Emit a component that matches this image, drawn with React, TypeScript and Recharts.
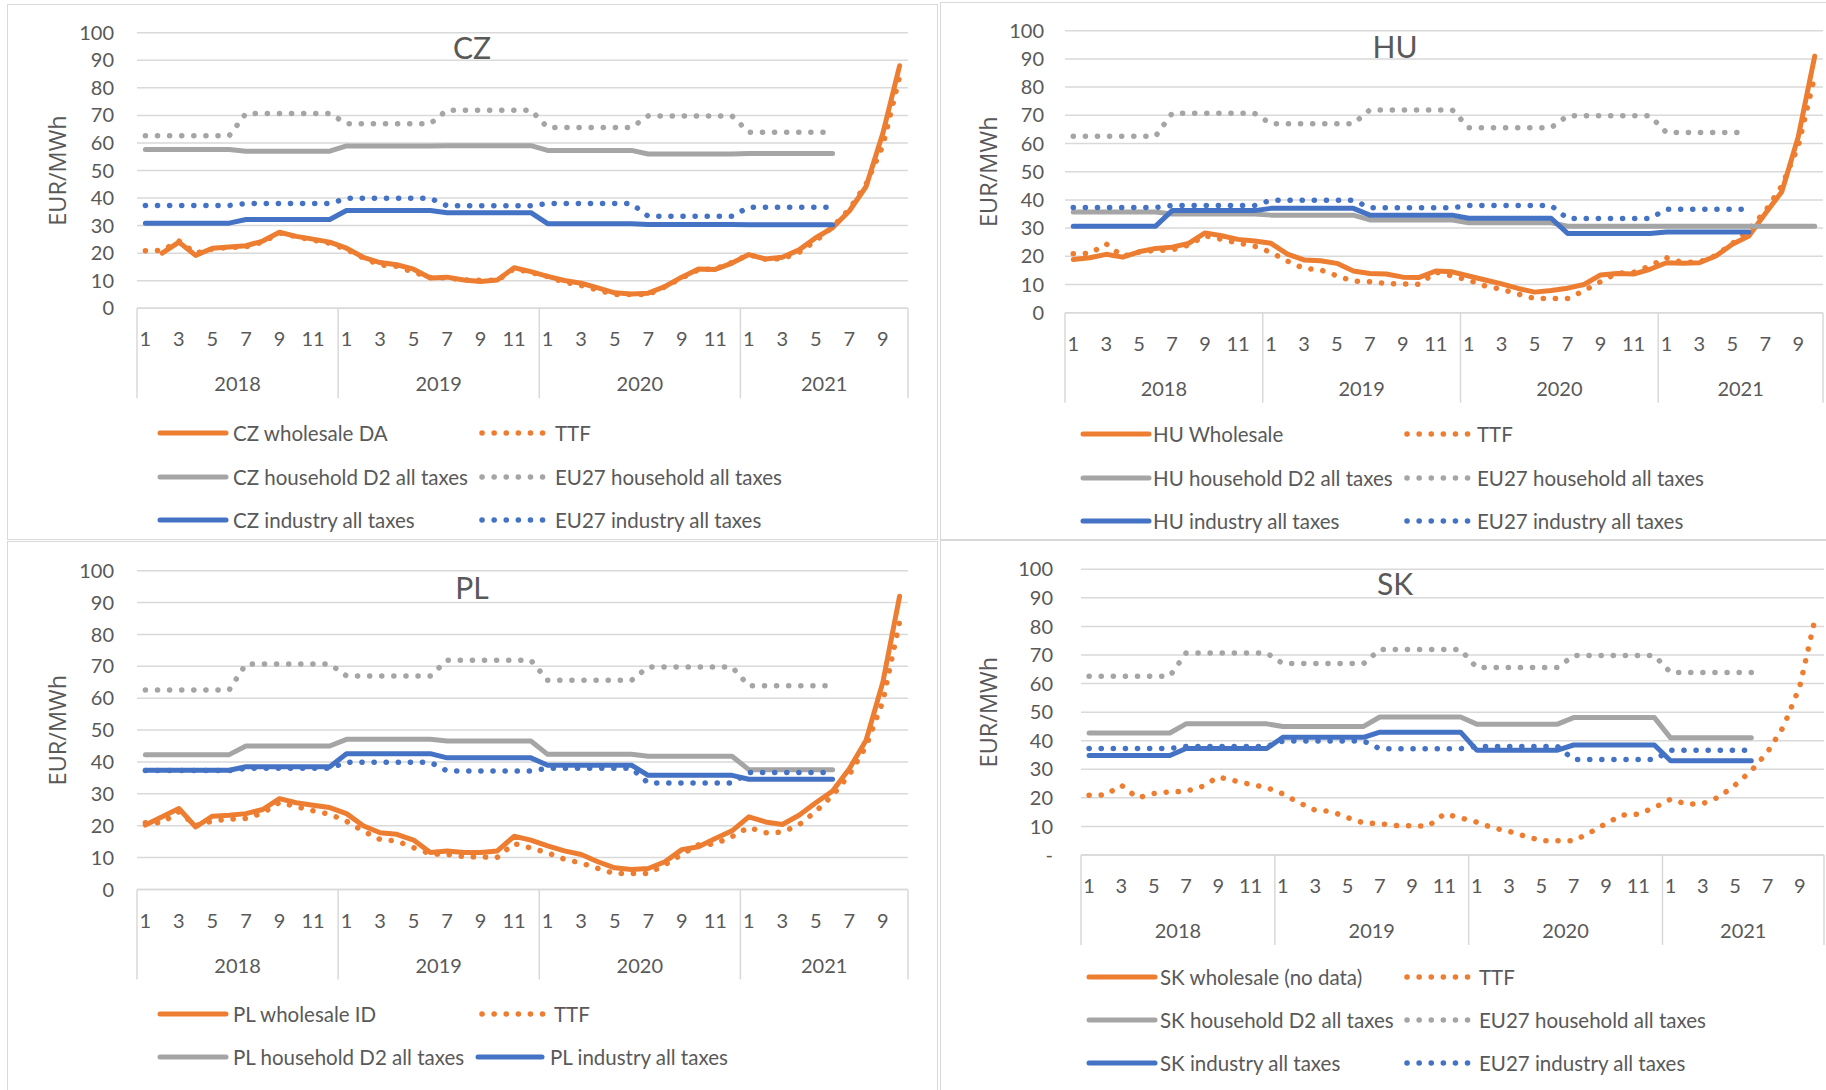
import React from "react";
import { LineChart, Line, XAxis, YAxis, CartesianGrid } from "recharts";

// categories: months Jan 2018 .. Oct 2021, shown as a two-level axis
const YEARS = ["2018", "2019", "2020", "2021"];
const MONTH_COUNTS = [12, 12, 12, 10];
const Y_TICKS = [0, 10, 20, 30, 40, 50, 60, 70, 80, 90, 100];

// monthly TTF gas price (EUR/MWh)
const TTF = [
  20.9, 21.0, 24.4, 20.0, 21.5, 22.1, 22.3, 24.0, 27.3, 26.0, 24.7, 23.6,
  21.4, 18.3, 15.7, 15.2, 13.1, 11.2, 11.0, 10.3, 10.2, 10.1, 14.4, 13.0,
  11.5, 9.5, 8.3, 6.6, 5.0, 5.0, 5.0, 7.8, 11.0, 14.0, 14.3, 16.6,
  19.5, 17.8, 18.0, 20.3, 24.5, 29.5, 36.0, 45.0, 59.0, 84.0,
];

// monthly wholesale prices
const CZ_WHOLESALE = [
  null, 20.0, 24.0, 19.2, 21.8, 22.2, 22.7, 24.4, 27.6, 26.1, 25.1, 24.0,
  21.8, 18.5, 16.6, 15.8, 14.2, 11.0, 11.3, 10.3, 9.7, 10.3, 14.7, 13.3,
  11.6, 10.1, 9.1, 7.4, 5.6, 5.2, 5.5, 7.9, 11.3, 14.3, 14.1, 16.4,
  19.5, 17.9, 18.5, 21.2, 25.6, 29.2, 35.3, 44.2, 63.5, 88.0,
];
const HU_WHOLESALE = [
  18.9, 19.5, 20.7, 19.7, 21.6, 22.8, 23.2, 24.6, 28.3, 27.3, 26.0, 25.4,
  24.6, 20.8, 18.7, 18.4, 17.5, 14.8, 13.9, 13.7, 12.6, 12.5, 14.8, 14.5,
  13.0, 11.6, 10.2, 8.6, 7.3, 7.9, 8.7, 10.0, 13.4, 13.9, 13.7, 15.4,
  17.7, 17.5, 17.7, 20.1, 24.3, 27.2, 35.2, 42.9, 62.4, 91.0,
];
const PL_WHOLESALE = [
  20.2, 22.8, 25.4, 19.6, 23.0, 23.3, 23.8, 25.1, 28.5, 27.2, 26.4, 25.7,
  23.8, 20.0, 17.8, 17.3, 15.5, 11.6, 12.1, 11.6, 11.6, 12.1, 16.7, 15.5,
  13.7, 12.1, 11.0, 8.7, 6.8, 6.3, 6.6, 8.7, 12.5, 13.4, 16.0, 18.4,
  22.8, 21.2, 20.4, 23.3, 27.2, 30.9, 37.9, 46.8, 65.0, 92.0,
];

// half-yearly retail prices: 2018H1, 2018H2, 2019H1, 2019H2, 2020H1, 2020H2, 2021H1 (...)
const EU27_HOUSEHOLD = [62.6, 70.7, 67.0, 71.9, 65.6, 69.8, 63.9];
const EU27_INDUSTRY = [37.3, 38.0, 39.9, 37.2, 38.0, 33.4, 36.7];
const CZ_HOUSEHOLD = [57.6, 57.0, 58.9, 59.0, 57.3, 56.0, 56.2];
const CZ_INDUSTRY = [30.9, 32.2, 35.5, 34.7, 30.7, 30.4, 30.3];
const HU_HOUSEHOLD = [35.7, 35.0, 34.6, 32.9, 31.9, 30.7, 30.7, 30.7];
const HU_INDUSTRY = [30.7, 36.2, 37.0, 34.6, 33.5, 28.1, 28.6];
const PL_HOUSEHOLD = [42.3, 45.0, 47.1, 46.6, 42.4, 41.8, 37.6];
const PL_INDUSTRY = [37.4, 38.5, 42.6, 41.3, 39.0, 35.8, 34.6];
const SK_HOUSEHOLD = [42.7, 45.9, 45.0, 48.3, 45.8, 48.1, 41.0];
const SK_INDUSTRY = [34.8, 37.3, 41.2, 43.0, 36.7, 38.5, 33.0];

const ORANGE = "#ED7D31";
const GRAY = "#A5A5A5";
const BLUE = "#4472C4";
const GRID = "#D9D9D9";
const TEXT = "#595959";
const FONT = "Lato, 'Liberation Sans', sans-serif";
const LABEL_FONT = "'Open Sans', 'DejaVu Sans', sans-serif";
const DOTS = "0.1 12";
const SOLID_W = 5;
const DOT_W = 5.5;
const X_AXIS_H = 95;
const Y_AXIS_W = 80;

const CATEGORIES = YEARS.flatMap((year, yi) =>
  Array.from({ length: MONTH_COUNTS[yi] }, (_, m) => ({
    key: `${year}-${m + 1}`,
    year,
    yearIdx: yi,
    month: m + 1,
  }))
);
const N = CATEGORIES.length;

// each half-year value holds for its six months
const byHalf = (values: number[]) =>
  CATEGORIES.map((_, i) => {
    const h = Math.floor(i / 6);
    return h < values.length ? values[h] : null;
  });

type Series = { key: string; color: string; dotted?: boolean; data: (number | null)[] };
type LegendItem = { name: string; color: string; dotted?: boolean; x: number; w: number; tx: number; y: number };

interface PanelCfg {
  title: string;
  svgLeft: number;
  svgTop: number;
  width: number;
  height: number;
  plotLeft: number;
  plotRight: number;
  plotTop: number;
  plotBottom: number;
  tickGap: number;
  titleX: number;
  titleY: number;
  labelX: number;
  zeroDash?: boolean;
  border: { left: number; top: number; width: number; height: number };
  series: Series[];
  legend: LegendItem[];
}

const common = (wholesale: (number | null)[] | null, household: number[], industry: number[]): Series[] => [
  ...(wholesale ? [{ key: "wholesale", color: ORANGE, data: wholesale }] : []),
  { key: "ttf", color: ORANGE, dotted: true, data: TTF },
  { key: "household", color: GRAY, data: byHalf(household) },
  { key: "euHousehold", color: GRAY, dotted: true, data: byHalf(EU27_HOUSEHOLD) },
  { key: "industry", color: BLUE, data: byHalf(industry) },
  { key: "euIndustry", color: BLUE, dotted: true, data: byHalf(EU27_INDUSTRY) },
];

const sixLegend = (c: string, first: string, rows: number[], x1: number, t1: number, x2: number, t2: number): LegendItem[] => [
  { name: first, color: ORANGE, x: x1, w: 66, tx: t1, y: rows[0] },
  { name: "TTF", color: ORANGE, dotted: true, x: x2, w: 62, tx: t2, y: rows[0] },
  { name: `${c} household D2 all taxes`, color: GRAY, x: x1, w: 66, tx: t1, y: rows[1] },
  { name: "EU27 household all taxes", color: GRAY, dotted: true, x: x2, w: 62, tx: t2, y: rows[1] },
  { name: `${c} industry all taxes`, color: BLUE, x: x1, w: 66, tx: t1, y: rows[2] },
  { name: "EU27 industry all taxes", color: BLUE, dotted: true, x: x2, w: 62, tx: t2, y: rows[2] },
];

const PANELS: PanelCfg[] = [
  {
    title: "CZ",
    svgLeft: 0, svgTop: 0, width: 940, height: 410,
    plotLeft: 137, plotRight: 908, plotTop: 32.7, plotBottom: 308.3,
    tickGap: 23, titleX: 472, titleY: 47, labelX: 57,
    border: { left: 7, top: 4, width: 931, height: 536 },
    series: common(CZ_WHOLESALE, CZ_HOUSEHOLD, CZ_INDUSTRY),
    legend: sixLegend("CZ", "CZ wholesale DA", [433, 477, 520], 160, 233, 482, 555),
  },
  {
    title: "HU",
    svgLeft: 940, svgTop: 0, width: 886, height: 410,
    plotLeft: 1065, plotRight: 1823, plotTop: 30.7, plotBottom: 312.7,
    tickGap: 21, titleX: 1395, titleY: 46, labelX: 988,
    border: { left: 940, top: 2, width: 900, height: 538 },
    series: common(HU_WHOLESALE, HU_HOUSEHOLD, HU_INDUSTRY),
    legend: sixLegend("HU", "HU Wholesale", [434, 477.5, 520.5], 1083, 1153, 1407, 1477),
  },
  {
    title: "PL",
    svgLeft: 0, svgTop: 540, width: 940, height: 550,
    plotLeft: 137, plotRight: 908, plotTop: 570.7, plotBottom: 889.5,
    tickGap: 23, titleX: 472, titleY: 587, labelX: 57,
    border: { left: 7, top: 541, width: 931, height: 600 },
    series: common(PL_WHOLESALE, PL_HOUSEHOLD, PL_INDUSTRY),
    legend: [
      { name: "PL wholesale ID", color: ORANGE, x: 160, w: 66, tx: 233, y: 1014 },
      { name: "TTF", color: ORANGE, dotted: true, x: 482, w: 62, tx: 554, y: 1014 },
      { name: "PL household D2 all taxes", color: GRAY, x: 160, w: 66, tx: 233, y: 1057 },
      { name: "PL industry all taxes", color: BLUE, x: 478, w: 64, tx: 550, y: 1057 },
    ],
  },
  {
    title: "SK",
    svgLeft: 940, svgTop: 540, width: 886, height: 550,
    plotLeft: 1081, plotRight: 1824, plotTop: 569.3, plotBottom: 855,
    tickGap: 28, titleX: 1395, titleY: 583, labelX: 988, zeroDash: true,
    border: { left: 940, top: 540, width: 900, height: 600 },
    series: common(null, SK_HOUSEHOLD, SK_INDUSTRY),
    legend: sixLegend("SK", "SK wholesale (no data)", [977, 1020, 1063], 1089, 1160, 1407, 1479),
  },
];

function YLabel({ p }: { p: PanelCfg }) {
  const x = p.labelX - p.svgLeft;
  const y = (p.plotTop + p.plotBottom) / 2 - p.svgTop;
  return (
    <text
      x={x}
      y={y}
      transform={`rotate(-90 ${x} ${y})`}
      textAnchor="middle"
      dominantBaseline="central"
      fontSize={23.5}
      fontFamily={LABEL_FONT}
      fill={TEXT}
    >
      EUR/MWh
    </text>
  );
}

function Panel({ p }: { p: PanelCfg }) {
  const bw = (p.plotRight - p.plotLeft) / N;
  const axisY = p.plotBottom - p.svgTop;
  const data = CATEGORIES.map((c, i) => {
    const row: Record<string, string | number | null> = { key: c.key };
    p.series.forEach((s) => (row[s.key] = s.data[i]));
    return row;
  });

  const renderTick = (props: any) => {
    const idx = props.payload?.index ?? props.index;
    const c = CATEGORIES[idx];
    if (!c) return <g />;
    const x = props.x;
    const left = x - bw / 2;
    return (
      <g>
        {c.month % 2 === 1 && (
          <text x={x} y={axisY + 30} textAnchor="middle" dominantBaseline="central" fontSize={20} fontFamily={FONT} fill={TEXT}>
            {c.month}
          </text>
        )}
        {c.month === 1 && (
          <>
            <line x1={left} x2={left} y1={axisY} y2={axisY + 90} stroke={GRID} strokeWidth={1.5} />
            <text
              x={left + (MONTH_COUNTS[c.yearIdx] * bw) / 2}
              y={axisY + 75}
              textAnchor="middle"
              dominantBaseline="central"
              fontSize={20}
              fontFamily={FONT}
              fill={TEXT}
            >
              {c.year}
            </text>
          </>
        )}
        {idx === N - 1 && (
          <line x1={x + bw / 2} x2={x + bw / 2} y1={axisY} y2={axisY + 90} stroke={GRID} strokeWidth={1.5} />
        )}
      </g>
    );
  };

  return (
    <div style={{ position: "absolute", left: p.svgLeft, top: p.svgTop }}>
      <LineChart
        width={p.width}
        height={p.height}
        data={data}
        margin={{
          top: p.plotTop - p.svgTop,
          right: p.svgLeft + p.width - p.plotRight,
          bottom: p.svgTop + p.height - p.plotBottom - X_AXIS_H,
          left: p.plotLeft - p.svgLeft - Y_AXIS_W,
        }}
      >
        <CartesianGrid vertical={false} stroke={GRID} strokeWidth={1.5} />
        <XAxis
          dataKey="key"
          interval={0}
          height={X_AXIS_H}
          tickLine={false}
          tickSize={0}
          tickMargin={0}
          axisLine={{ stroke: GRID, strokeWidth: 1.5 }}
          padding={{ left: bw / 2, right: bw / 2 }}
          tick={renderTick}
        />
        <YAxis
          domain={[0, 100]}
          ticks={Y_TICKS}
          interval={0}
          width={Y_AXIS_W}
          axisLine={false}
          tickLine={false}
          tickSize={0}
          tickMargin={p.tickGap}
          tick={{ fill: TEXT, fontSize: 20, fontFamily: FONT }}
          tickFormatter={(v: number) => (v === 0 && p.zeroDash ? "-" : String(v))}
          label={<YLabel p={p} />}
        />
        {p.series.map((s) => (
          <Line
            key={s.key}
            type="linear"
            dataKey={s.key}
            stroke={s.color}
            strokeWidth={s.dotted ? DOT_W : SOLID_W}
            strokeDasharray={s.dotted ? DOTS : undefined}
            strokeLinecap="round"
            strokeLinejoin="round"
            dot={false}
            activeDot={false}
            isAnimationActive={false}
          />
        ))}
      </LineChart>
    </div>
  );
}

function LegendEntry({ item }: { item: LegendItem }) {
  return (
    <>
      <svg
        width={item.w + 8}
        height={10}
        style={{ position: "absolute", left: item.x - 4, top: item.y - 5 }}
      >
        <line
          x1={4}
          x2={item.w + 4}
          y1={5}
          y2={5}
          stroke={item.color}
          strokeWidth={item.dotted ? DOT_W : SOLID_W}
          strokeLinecap="round"
          strokeDasharray={item.dotted ? DOTS : undefined}
        />
      </svg>
      <div
        style={{
          position: "absolute",
          left: item.tx,
          top: item.y - 13,
          height: 26,
          lineHeight: "26px",
          fontSize: 20.5,
          fontFamily: FONT,
          color: TEXT,
          whiteSpace: "nowrap",
        }}
      >
        {item.name}
      </div>
    </>
  );
}

export default function App() {
  return (
    <div
      style={{
        position: "absolute",
        left: 0,
        top: 0,
        width: 1826,
        height: 1090,
        overflow: "hidden",
        background: "#fff",
      }}
    >
      {PANELS.map((p) => (
        <div
          key={`b-${p.title}`}
          style={{
            position: "absolute",
            left: p.border.left,
            top: p.border.top,
            width: p.border.width,
            height: p.border.height,
            border: `1.5px solid ${GRID}`,
            boxSizing: "border-box",
          }}
        />
      ))}
      {PANELS.map((p) => (
        <Panel key={p.title} p={p} />
      ))}
      {PANELS.map((p) => (
        <div
          key={`t-${p.title}`}
          style={{
            position: "absolute",
            left: p.titleX,
            top: p.titleY,
            transform: "translate(-50%, -50%)",
            fontSize: 30,
            fontFamily: FONT,
            color: TEXT,
            lineHeight: 1,
          }}
        >
          {p.title}
        </div>
      ))}
      {PANELS.flatMap((p) => p.legend.map((item, i) => <LegendEntry key={`${p.title}-${i}`} item={item} />))}
    </div>
  );
}
